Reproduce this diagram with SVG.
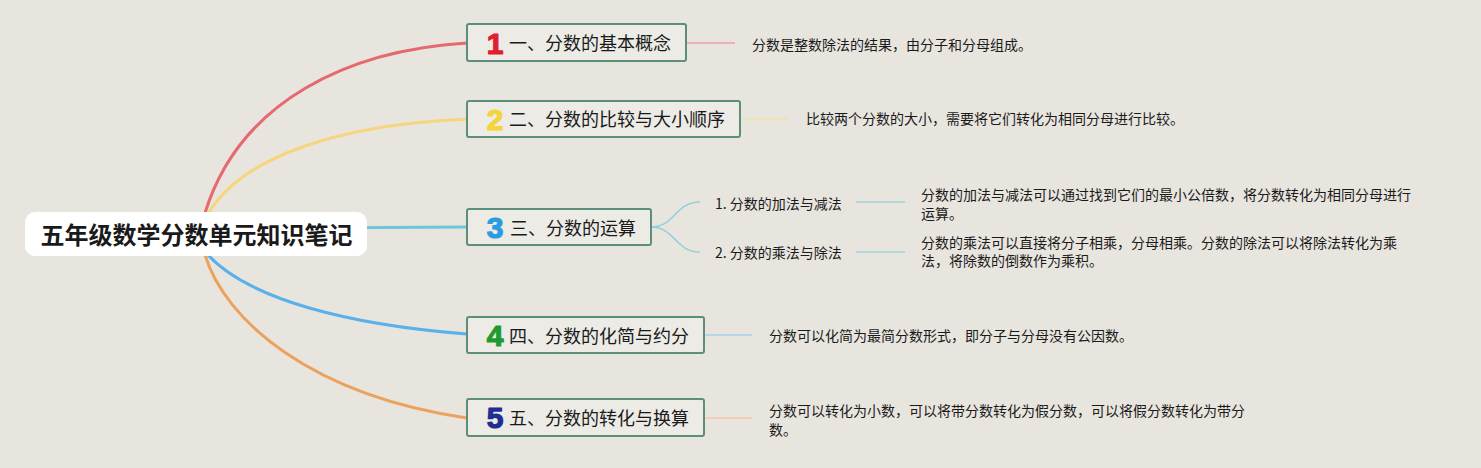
<svg xmlns="http://www.w3.org/2000/svg" width="1481" height="468" viewBox="0 0 1481 468">
<style>
.bg{fill:#e8e5df}
.box{fill:#ecebe6;stroke:#5b8f7b;stroke-width:2}
.t{font-family:"Noto Sans CJK SC","Noto Sans",sans-serif;fill:#1a1a1a}
.nt{font-size:18px}
.dt{font-size:14px}
.num{font-family:"Liberation Sans",Arial,sans-serif;font-weight:bold;font-size:30px;text-anchor:middle;stroke-width:1.2;stroke-linejoin:round}
.main{fill:none;stroke-width:3;stroke-linecap:round}
.thin{fill:none;stroke-width:1.5}
</style>
<rect class="bg" x="0" y="0" width="1481" height="468"/>
<g id="connectors">
  <path class="main" stroke="#e5696e" d="M205,213 C240,100 350,50 467,43"/>
  <path class="main" stroke="#f6d57c" d="M208,214 C240,160 330,125 467,119"/>
  <path class="main" stroke="#6cc6dc" d="M300,228 L467,227"/>
  <path class="main" stroke="#5ab0ea" d="M208,255 C250,300 350,325 467,334"/>
  <path class="main" stroke="#eca25f" d="M205,255 C225,320 310,395 467,418"/>
  <path class="thin" stroke="#eaa2a2" d="M686,43 L735,43"/>
  <path class="thin" stroke="#f2e0a6" d="M740,119 L788,119"/>
  <path class="thin" stroke="#8fd0dc" d="M651,227 C675,227 675,202 700,202"/>
  <path class="thin" stroke="#8fd0dc" d="M651,227 C675,227 675,252 700,252"/>
  <path class="thin" stroke="#9fd2dc" d="M856,202 L905,202"/>
  <path class="thin" stroke="#9fd2dc" d="M856,252 L905,252"/>
  <path class="thin" stroke="#a6cfea" d="M704,335 L752,335"/>
  <path class="thin" stroke="#f0c6a6" d="M704,418 L752,418"/>
</g>
<g id="root">
  <rect x="25" y="212" width="342" height="44" rx="10" fill="#ffffff"/>
  <text class="t" x="196.5" y="244" font-size="24" font-weight="bold" text-anchor="middle" fill="#111">五年级数学分数单元知识笔记</text>
</g>
<g id="node1">
  <rect class="box" x="467" y="24" width="219" height="37" rx="2"/>
  <text class="num" x="495" y="54" font-size="34" fill="#e0202e" stroke="#e0202e">1</text>
  <text class="t nt" x="509" y="50">一、分数的基本概念</text>
</g>
<g id="node2">
  <rect class="box" x="467" y="101" width="273" height="36" rx="2"/>
  <text class="num" x="495" y="130" fill="#f5d33a" stroke="#f5d33a">2</text>
  <text class="t nt" x="509" y="126">二、分数的比较与大小顺序</text>
</g>
<g id="node3">
  <rect class="box" x="467" y="209" width="184" height="36" rx="2"/>
  <text class="num" x="495" y="238" fill="#2a9de0" stroke="#2a9de0">3</text>
  <text class="t nt" x="510" y="235">三、分数的运算</text>
</g>
<g id="node4">
  <rect class="box" x="467" y="317" width="237" height="36" rx="2"/>
  <text class="num" x="495" y="346" fill="#1f9a30" stroke="#1f9a30">4</text>
  <text class="t nt" x="509" y="342.5">四、分数的化简与约分</text>
</g>
<g id="node5">
  <rect class="box" x="467" y="399" width="237" height="37" rx="2"/>
  <text class="num" x="495" y="428" fill="#1f2f8f" stroke="#1f2f8f">5</text>
  <text class="t nt" x="509" y="424.5">五、分数的转化与换算</text>
</g>
<g id="sub1">
  <text class="t dt" x="715" y="209">1. 分数的加法与减法</text>
</g>
<g id="sub2">
  <text class="t dt" x="715" y="258">2. 分数的乘法与除法</text>
</g>
<g id="desc1">
  <text class="t dt" x="752" y="49.5">分数是整数除法的结果，由分子和分母组成。</text>
</g>
<g id="desc2">
  <text class="t dt" x="806" y="124">比较两个分数的大小，需要将它们转化为相同分母进行比较。</text>
</g>
<g id="desc3">
  <text class="t dt" x="921" y="200">分数的加法与减法可以通过找到它们的最小公倍数，将分数转化为相同分母进行</text>
  <text class="t dt" x="921" y="218.5">运算。</text>
</g>
<g id="desc4">
  <text class="t dt" x="921" y="247.5">分数的乘法可以直接将分子相乘，分母相乘。分数的除法可以将除法转化为乘</text>
  <text class="t dt" x="921" y="266">法，将除数的倒数作为乘积。</text>
</g>
<g id="desc5">
  <text class="t dt" x="769" y="341">分数可以化简为最简分数形式，即分子与分母没有公因数。</text>
</g>
<g id="desc6">
  <text class="t dt" x="769" y="415.5">分数可以转化为小数，可以将带分数转化为假分数，可以将假分数转化为带分</text>
  <text class="t dt" x="769" y="434.5">数。</text>
</g>
</svg>
